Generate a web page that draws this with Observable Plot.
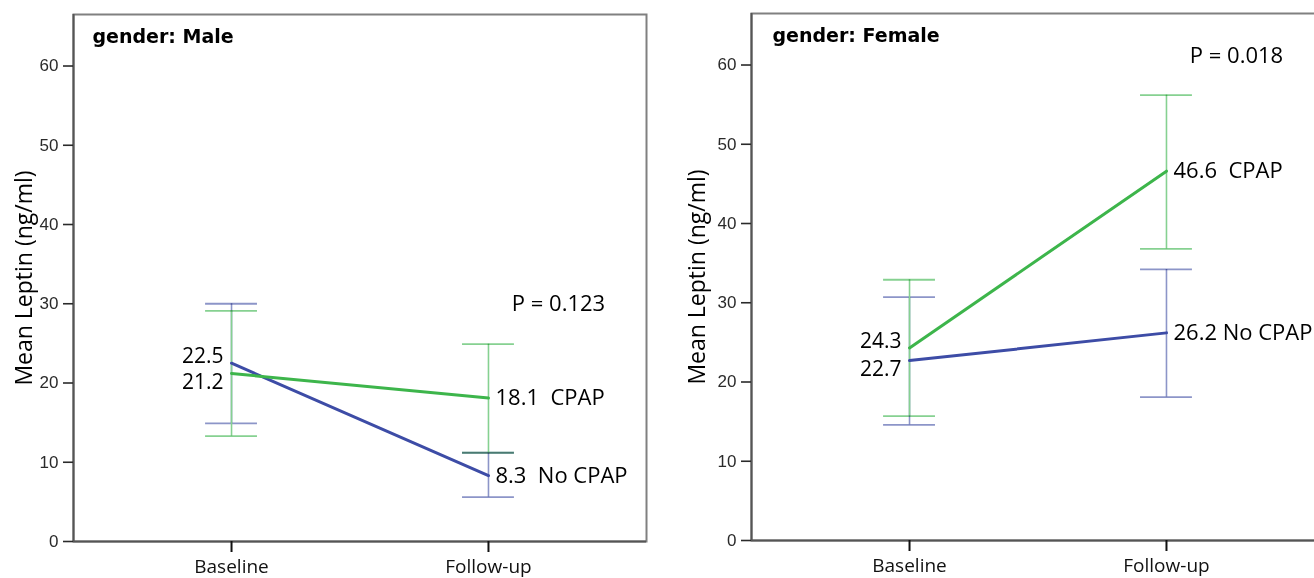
<!DOCTYPE html>
<html>
<head>
<meta charset="utf-8">
<script src="https://cdn.jsdelivr.net/npm/d3@7"></script>
<script src="https://cdn.jsdelivr.net/npm/@observablehq/plot@0.6"></script>
<style>
  html, body { margin: 0; padding: 0; background: #fff; overflow: hidden; }
  #wrap { display: flex; flex-wrap: nowrap; width: 1400px; }
  #wrap svg { flex: none; background: #fff; }
</style>
</head>
<body>
<div id="wrap"></div>
<script>
// ---- Data ----
const timepoints = ["Baseline", "Follow-up"];
const groups = ["CPAP", "No CPAP"];
const yTicks = [0, 10, 20, 30, 40, 50, 60];
const yTitle = "Mean Leptin (ng/ml)";
const panelTitles = ["gender: Male", "gender: Female"];
const pLabels = ["P = 0.123", "P = 0.018"];

// Male
const maleCPAPMean = [21.2, 18.1];
const maleCPAPLow = [13.3, 11.2];
const maleCPAPHigh = [29.1, 24.9];
const maleNoCPAPMean = [22.5, 8.3];
const maleNoCPAPLow = [14.9, 5.6];
const maleNoCPAPHigh = [30.0, 11.2];
const maleBaseLabels = ["21.2", "22.5"];            // CPAP, No CPAP
const maleEndLabels = ["18.1  CPAP", "8.3  No CPAP"]; // CPAP, No CPAP

// Female
const femaleCPAPMean = [24.3, 46.6];
const femaleCPAPLow = [15.7, 36.8];
const femaleCPAPHigh = [32.9, 56.2];
const femaleNoCPAPMean = [22.7, 26.2];
const femaleNoCPAPLow = [14.6, 18.1];
const femaleNoCPAPHigh = [30.7, 34.2];
const femaleBaseLabels = ["24.3", "22.7"];
const femaleEndLabels = ["46.6  CPAP", "26.2 No CPAP"];

// ---- Styles ----
const lineColor = {"CPAP": "#3db54b", "No CPAP": "#3d4ca6"};
const barColor = {"CPAP": "#86d191", "No CPAP": "#8c95c8"};
const annoFont = "'Open Sans', sans-serif";

function rows(mean, lo, hi, group, baseLabel, endLabel) {
  return timepoints.map((t, i) => ({i, t, mean: mean[i], lo: lo[i], hi: hi[i], group,
    label: i === 0 ? baseLabel : endLabel}));
}

function panel(cfg) {
  const cpap = rows(cfg.cpapMean, cfg.cpapLow, cfg.cpapHigh, "CPAP", cfg.baseLabels[0], cfg.endLabels[0]);
  const noc = rows(cfg.noMean, cfg.noLow, cfg.noHigh, "No CPAP", cfg.baseLabels[1], cfg.endLabels[1]);
  const xDomain = [-0.615, 1.615];
  const cap = 0.101;
  const cpapHigher = cpap[0].mean >= noc[0].mean;
  const bars = (data, g) => [
    Plot.ruleX(data, {x: "i", y1: "lo", y2: "hi", stroke: barColor[g], strokeWidth: 1.6}),
    Plot.ruleY(data, {y: "lo", x1: d => d.i - cap, x2: d => d.i + cap, stroke: barColor[g], strokeWidth: 1.8, mixBlendMode: "multiply"}),
    Plot.ruleY(data, {y: "hi", x1: d => d.i - cap, x2: d => d.i + cap, stroke: barColor[g], strokeWidth: 1.8, mixBlendMode: "multiply"})
  ];
  const baseText = (data, higher) => Plot.text(data.filter(d => d.i === 0), {
    x: "i", y: "mean", text: "label", textAnchor: "end", dx: -8, dy: higher ? -7 : 9,
    fontSize: 21, fontFamily: annoFont, fill: "#000"
  });
  const endText = data => Plot.text(data.filter(d => d.i === 1), {
    x: "i", y: "mean", text: "label", textAnchor: "start", dx: 7,
    fontSize: 22, fontFamily: annoFont, fill: "#000"
  });
  return Plot.plot({
    width: cfg.width,
    height: 578,
    marginLeft: cfg.marginLeft,
    marginRight: cfg.marginRight,
    marginTop: cfg.marginTop,
    marginBottom: cfg.marginBottom,
    x: {type: "linear", domain: xDomain},
    y: {domain: [0, 66.5]},
    marks: [
      Plot.frame({stroke: "#808080", strokeWidth: 2}),
      Plot.ruleY([0], {stroke: "#555", strokeWidth: 2}),
      Plot.ruleX([xDomain[0]], {stroke: "#555", strokeWidth: 2}),
      Plot.axisY({ticks: yTicks, tickSize: 10, tickPadding: 5, label: null,
        fontSize: 17, fontFamily: "'Liberation Sans', Arial, sans-serif", color: "#2a2a2a", strokeWidth: 1.6}),
      Plot.axisX({ticks: [0, 1], tickFormat: i => timepoints[i], tickSize: 11, tickPadding: 7, label: null,
        fontSize: 19, fontFamily: annoFont, color: "#111", strokeWidth: 2}),
      ...bars(noc, "No CPAP"),
      ...bars(cpap, "CPAP"),
      Plot.line(noc, {x: "i", y: "mean", stroke: lineColor["No CPAP"], strokeWidth: 3}),
      Plot.line(cpap, {x: "i", y: "mean", stroke: lineColor["CPAP"], strokeWidth: 3}),
      baseText(cpap, cpapHigher),
      baseText(noc, !cpapHigher),
      endText(cpap),
      endText(noc),
      Plot.text([cfg.pLabel], {x: 1, y: cfg.pY, dx: 70, textAnchor: "middle",
        fontSize: 22, fontFamily: annoFont, fill: "#000"}),
      Plot.text([cfg.title], {frameAnchor: "top-left", dx: cfg.titleDx, dy: 15, lineAnchor: "top", textAnchor: "start",
        fontSize: 19, fontWeight: "bold", fontFamily: "'DejaVu Sans', sans-serif", fill: "#000"}),
      Plot.text([yTitle], {frameAnchor: "left", dx: cfg.yTitleDx, rotate: -90, textAnchor: "middle", lineAnchor: "middle",
        fontSize: 23, fontFamily: annoFont, fill: "#000"})
    ]
  });
}

const wrap = document.getElementById("wrap");
wrap.appendChild(panel({
  title: panelTitles[0], pLabel: pLabels[0], pY: 30,
  cpapMean: maleCPAPMean, cpapLow: maleCPAPLow, cpapHigh: maleCPAPHigh,
  noMean: maleNoCPAPMean, noLow: maleNoCPAPLow, noHigh: maleNoCPAPHigh,
  baseLabels: maleBaseLabels, endLabels: maleEndLabels,
  width: 657, marginLeft: 73, marginRight: 11, marginTop: 14, marginBottom: 37,
  titleDx: 19, yTitleDx: -49
}));
wrap.appendChild(panel({
  title: panelTitles[1], pLabel: pLabels[1], pY: 61.2,
  cpapMean: femaleCPAPMean, cpapLow: femaleCPAPLow, cpapHigh: femaleCPAPHigh,
  noMean: femaleNoCPAPMean, noLow: femaleNoCPAPLow, noHigh: femaleNoCPAPHigh,
  baseLabels: femaleBaseLabels, endLabels: femaleEndLabels,
  width: 677, marginLeft: 94, marginRight: 10, marginTop: 13, marginBottom: 38,
  titleDx: 21, yTitleDx: -54
}));
</script>
</body>
</html>
